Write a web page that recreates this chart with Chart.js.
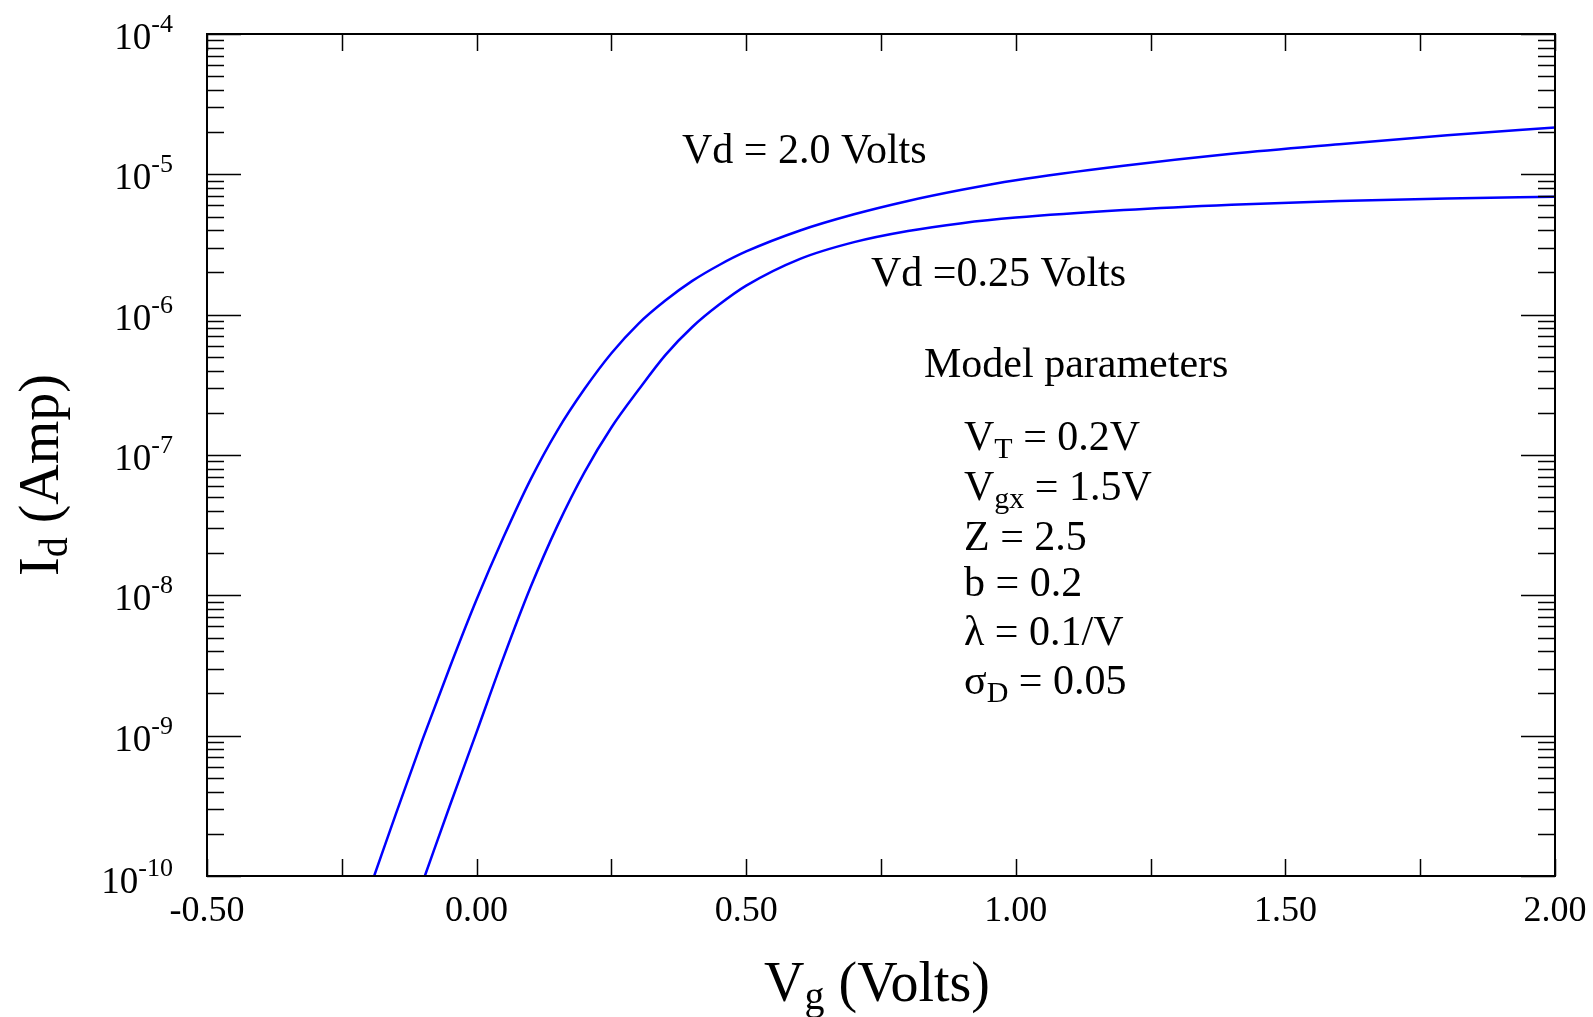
<!DOCTYPE html>
<html>
<head>
<meta charset="utf-8">
<script src="https://cdn.jsdelivr.net/npm/chart.js@4.4.1/dist/chart.umd.min.js"></script>
<style>
  html, body { margin: 0; padding: 0; background: #ffffff; }
  #c { display: block; }
</style>
</head>
<body>
<canvas id="c" width="1593" height="1017" style="width:1593px;height:1017px"></canvas>
<script>
// ---------------- data ----------------
const vgVd20 = [-0.19, -0.15, -0.10, -0.05, 0.00, 0.05, 0.10, 0.15, 0.20, 0.25, 0.30, 0.35, 0.40, 0.45, 0.50, 0.60, 0.70, 0.80, 0.90, 1.00, 1.20, 1.40, 1.60, 1.80, 2.00];
const idVd20 = [1.0e-10, 2.75e-10, 9.44e-10, 3.05e-9, 9.33e-9, 2.60e-8, 6.68e-8, 1.50e-7, 2.95e-7, 5.31e-7, 8.61e-7, 1.26e-6, 1.74e-6, 2.26e-6, 2.82e-6, 3.98e-6, 5.19e-6, 6.46e-6, 7.76e-6, 9.08e-6, 1.15e-5, 1.40e-5, 1.64e-5, 1.90e-5, 2.16e-5];

const vgVd025 = [-0.096, -0.05, 0.00, 0.05, 0.10, 0.15, 0.20, 0.25, 0.30, 0.35, 0.40, 0.45, 0.50, 0.60, 0.70, 0.80, 0.90, 1.00, 1.20, 1.40, 1.60, 1.80, 2.00];
const idVd025 = [1.0e-10, 3.14e-10, 1.06e-9, 3.61e-9, 1.14e-8, 3.14e-8, 7.53e-8, 1.57e-7, 2.90e-7, 5.15e-7, 8.17e-7, 1.18e-6, 1.61e-6, 2.50e-6, 3.29e-6, 3.95e-6, 4.49e-6, 4.92e-6, 5.57e-6, 6.08e-6, 6.46e-6, 6.73e-6, 6.92e-6];

const xTickValues = [-0.50, -0.25, 0.00, 0.25, 0.50, 0.75, 1.00, 1.25, 1.50, 1.75, 2.00];
const xTickLabels = ["-0.50", "0.00", "0.50", "1.00", "1.50", "2.00"];
const xLabelValues = [-0.50, 0.00, 0.50, 1.00, 1.50, 2.00];
const yDecades = [-10, -9, -8, -7, -6, -5, -4];

const seriesLabels = ["Vd = 2.0 Volts", "Vd =0.25 Volts"];
const paramLines = [
  [["V", 0], ["T", 1], [" = 0.2V", 0]],
  [["V", 0], ["gx", 1], [" = 1.5V", 0]],
  [["Z = 2.5", 0]],
  [["b = 0.2", 0]],
  [["\u03bb = 0.1/V", 0]],
  [["\u03c3", 0], ["D", 1], [" = 0.05", 0]]
];

// ---------------- helpers ----------------
const FONT = '"Liberation Serif", "Times New Roman", serif';

function drawRich(ctx, parts, x, y, align) {
  let total = 0;
  parts.forEach(p => { ctx.font = p.size + 'px ' + FONT; total += ctx.measureText(p.t).width; });
  let cx = x;
  if (align === 'right') cx = x - total;
  else if (align === 'center') cx = x - total / 2;
  ctx.textAlign = 'left';
  ctx.textBaseline = 'alphabetic';
  parts.forEach(p => {
    ctx.font = p.size + 'px ' + FONT;
    ctx.fillText(p.t, cx, y + (p.dy || 0));
    cx += ctx.measureText(p.t).width;
  });
}

const framePlugin = {
  id: 'frame',
  afterDraw(chart) {
    const ctx = chart.ctx;
    const xs = chart.scales.x, ys = chart.scales.y;
    const a = chart.chartArea;
    ctx.save();
    ctx.strokeStyle = '#000000';
    ctx.fillStyle = '#000000';

    // frame
    ctx.lineWidth = 2;
    ctx.strokeRect(a.left, a.top, a.right - a.left, a.bottom - a.top);

    // x ticks (bottom & top, inward)
    ctx.lineWidth = 1.5;
    ctx.beginPath();
    xTickValues.forEach(v => {
      const px = Math.round(xs.getPixelForValue(v)) + 0.5;
      ctx.moveTo(px, a.bottom); ctx.lineTo(px, a.bottom - 17);
      ctx.moveTo(px, a.top); ctx.lineTo(px, a.top + 17);
    });
    ctx.stroke();

    // y ticks (left & right, inward)
    ctx.beginPath();
    yDecades.forEach(d => {
      const base = Math.pow(10, d);
      const py = Math.round(ys.getPixelForValue(base)) + 0.5;
      ctx.moveTo(a.left, py); ctx.lineTo(a.left + 34, py);
      ctx.moveTo(a.right, py); ctx.lineTo(a.right - 34, py);
      if (d < -4) {
        for (let k = 2; k <= 9; k++) {
          const pm = Math.round(ys.getPixelForValue(k * base)) + 0.5;
          ctx.moveTo(a.left, pm); ctx.lineTo(a.left + 17, pm);
          ctx.moveTo(a.right, pm); ctx.lineTo(a.right - 17, pm);
        }
      }
    });
    ctx.stroke();

    // x tick labels
    xLabelValues.forEach((v, i) => {
      const px = xs.getPixelForValue(v);
      drawRich(ctx, [{t: xTickLabels[i], size: 36}], px, a.bottom + 45, 'center');
    });

    // y tick labels 10^d
    yDecades.forEach(d => {
      const py = ys.getPixelForValue(Math.pow(10, d));
      const off = d === -10 ? 17 : 15;
      drawRich(ctx, [{t: '10', size: 37}, {t: String(d), size: 26, dy: -17}], 173, py + off, 'right');
    });

    // axis titles
    drawRich(ctx, [{t: 'V', size: 56}, {t: 'g', size: 40, dy: 8}, {t: ' (Volts)', size: 56}], 877, 1001, 'center');
    ctx.save();
    ctx.translate(58, 475);
    ctx.rotate(-Math.PI / 2);
    drawRich(ctx, [{t: 'I', size: 56}, {t: 'd', size: 40, dy: 9}, {t: ' (Amp)', size: 56}], 0, 0, 'center');
    ctx.restore();

    // annotations
    drawRich(ctx, [{t: seriesLabels[0], size: 42}], 682, 163, 'left');
    drawRich(ctx, [{t: seriesLabels[1], size: 42}], 871, 286, 'left');
    drawRich(ctx, [{t: 'Model parameters', size: 42}], 924, 377, 'left');
    const baselines = [450, 500, 550, 596, 645, 694];
    paramLines.forEach((line, i) => {
      const parts = line.map(([t, sub]) => sub ? {t, size: 30, dy: 8} : {t, size: 42});
      drawRich(ctx, parts, 964, baselines[i], 'left');
    });
    ctx.restore();
  }
};

const toPoints = (xs, ys) => xs.map((x, i) => ({x: x, y: ys[i]}));

new Chart(document.getElementById('c').getContext('2d'), {
  type: 'line',
  data: {
    datasets: [
      { label: seriesLabels[0], data: toPoints(vgVd20, idVd20), borderColor: '#0000ff', borderWidth: 2.5,
        pointRadius: 0, fill: false, cubicInterpolationMode: 'monotone' },
      { label: seriesLabels[1], data: toPoints(vgVd025, idVd025), borderColor: '#0000ff', borderWidth: 2.5,
        pointRadius: 0, fill: false, cubicInterpolationMode: 'monotone' }
    ]
  },
  options: {
    responsive: false,
    animation: false,
    events: [],
    layout: { padding: { left: 0, right: 38, top: 34, bottom: 0 } },
    plugins: { legend: { display: false }, tooltip: { enabled: false }, title: { display: false } },
    scales: {
      x: { type: 'linear', min: -0.5, max: 2.0, grid: { display: false }, border: { display: false },
           ticks: { display: false }, afterFit(s) { s.height = 141; } },
      y: { type: 'logarithmic', min: 1e-10, max: 1e-4, grid: { display: false }, border: { display: false },
           ticks: { display: false }, afterFit(s) { s.width = 207; } }
    }
  },
  plugins: [framePlugin]
});
</script>
</body>
</html>
